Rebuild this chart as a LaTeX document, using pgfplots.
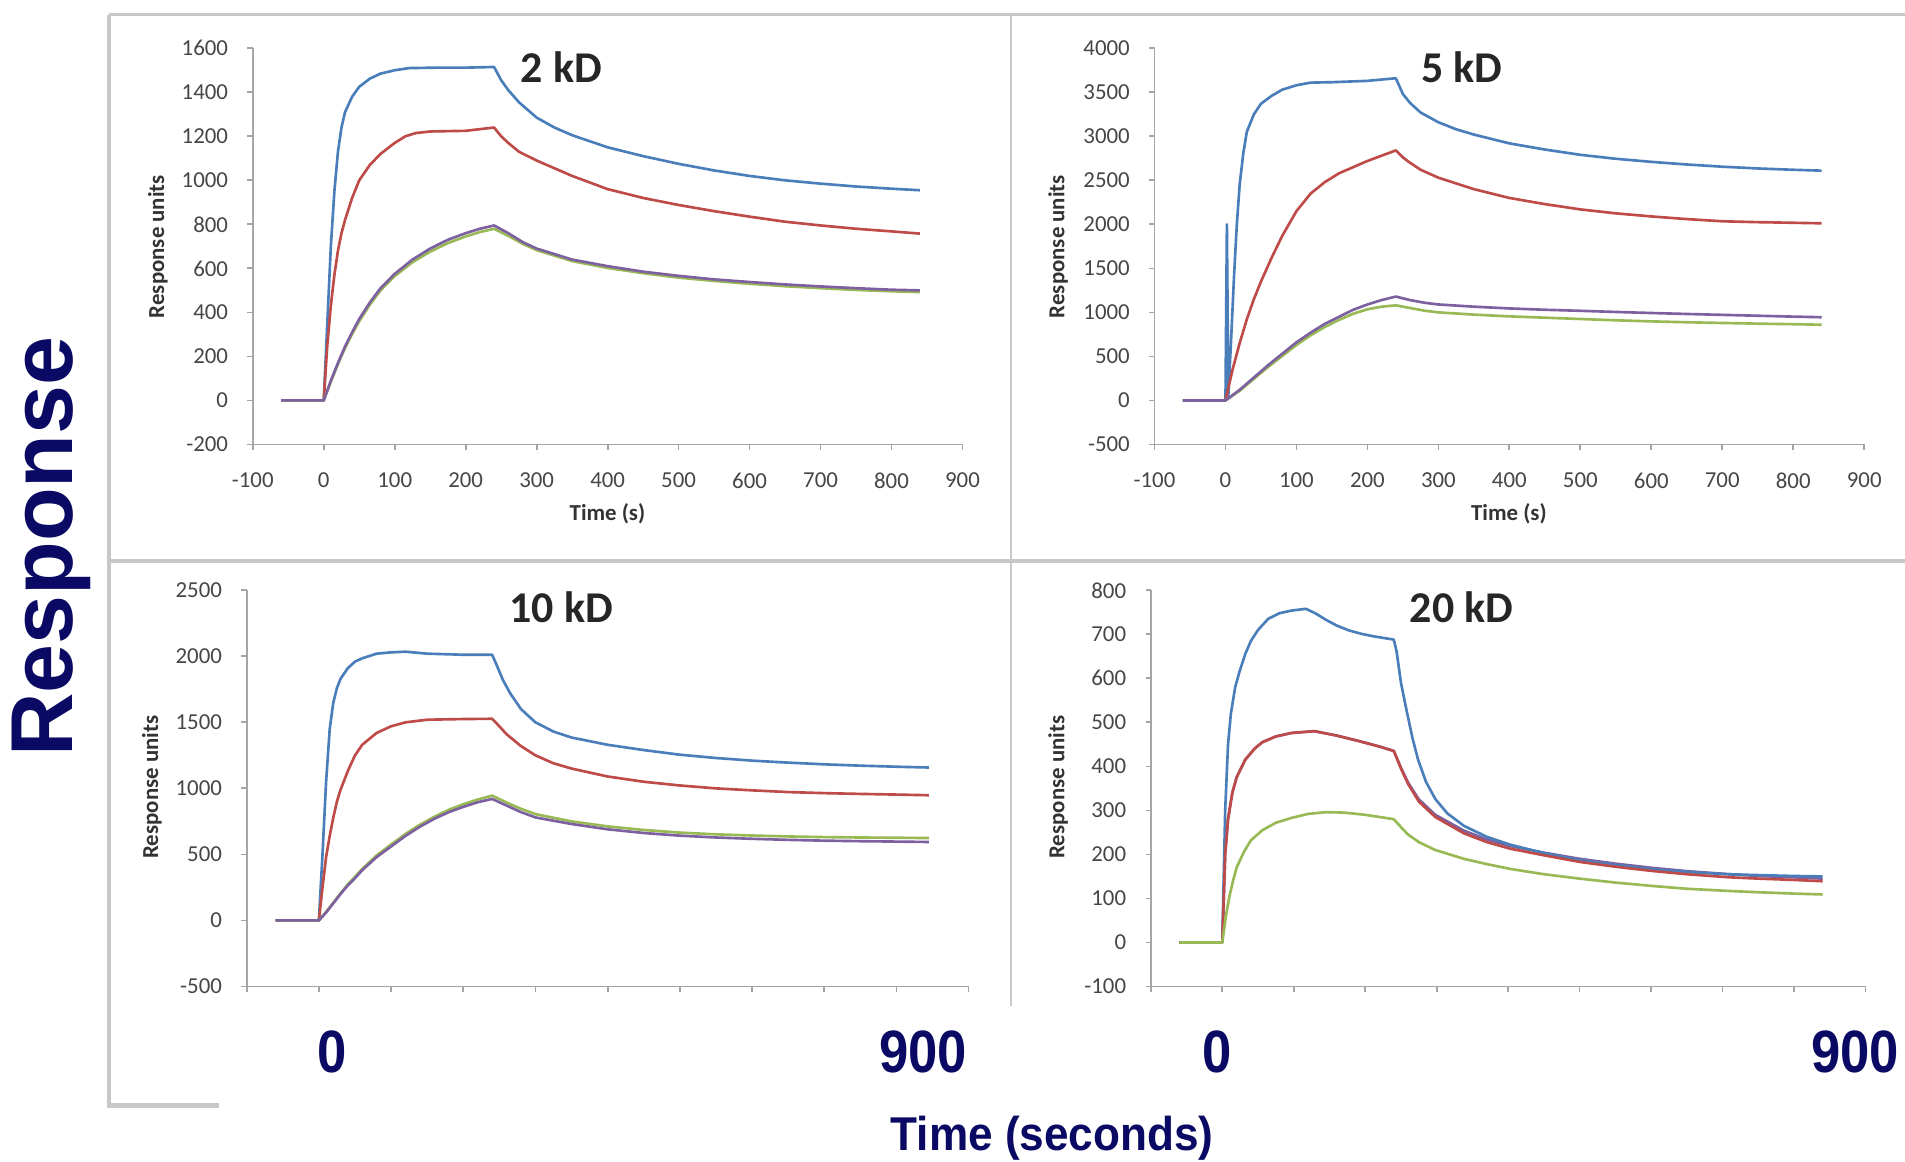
\documentclass[border=0pt]{standalone}
\usepackage{pgfplots}
\pgfplotsset{compat=1.18}
\usepackage{fontspec}
\setmainfont{Carlito}
\newfontfamily\arialfont{Liberation Sans}
\definecolor{xlblue}{HTML}{4A7EBB}
\definecolor{xlred}{HTML}{BE4B48}
\definecolor{xlgreen}{HTML}{98B954}
\definecolor{xlpurple}{HTML}{7D60A0}
\definecolor{navy}{RGB}{10,10,100}
\definecolor{framegrey}{RGB}{200,200,200}
\definecolor{axgrey}{RGB}{165,165,165}
\definecolor{ticktext}{RGB}{70,70,70}
\pgfplotsset{
  spr/.style={
    scale only axis, anchor=south west,
    axis x line=bottom, axis y line=left,
    axis line style={-, axgrey, line width=0.5pt},
    tick style={axgrey, line width=0.5pt},
    tick align=outside, major tick length=1.5pt,
    xmin=-100, xmax=900, xtick={-100,0,...,900},
    xticklabels={-100,0,100,200,300,400,500,600,700,800,900},
    tick label style={font=\fontsize{6.5}{7}\selectfont, text=ticktext},
    xticklabel style={yshift=-3pt},
    yticklabel style={xshift=-2pt},
    every axis plot/.append style={line width=0.75pt, mark=none, line join=round},
  },
}
\begin{document}
\begin{tikzpicture}[x=0.0121492cm, y=0.0121492cm]
\path[use as bounding box, fill=white] (0,0) rectangle (1568,956);
% frame lines
\draw[framegrey, line width=1.1pt] (90,944) -- (1568,944);
\draw[framegrey, line width=1.1pt] (90,944) -- (90,44);
\draw[framegrey, line width=0.6pt] (832,944) -- (832,128);
\draw[framegrey, line width=1.1pt] (90,494) -- (1568,494);
\draw[framegrey, line width=1.4pt] (90,46) -- (180,46);

% ---------- 2 kD ----------
\begin{axis}[spr, at={(2.5270cm,7.1680cm)}, width=7.0951cm, height=3.9606cm,
  ymin=-200, ymax=1600, ytick={-200,0,...,1600},
  yticklabels={-200,0,200,400,600,800,1000,1200,1400,1600}]
\addplot[xlblue] coordinates {(-60,0)(0,0)(5,350)(10,700)(15,950)(20,1130)(25,1240)(30,1310)(40,1380)(50,1425)(65,1462)(80,1485)(100,1500)(120,1510)(160,1512)(200,1512)(240,1515)(250,1455)(260,1410)(275,1355)(300,1285)(325,1240)(350,1205)(400,1150)(450,1110)(500,1075)(550,1045)(600,1020)(650,1000)(700,985)(750,972)(800,962)(840,955)};
\addplot[xlred] coordinates {(-60,0)(0,0)(5,250)(10,430)(15,570)(20,680)(25,760)(30,820)(40,920)(50,1000)(65,1070)(80,1120)(100,1170)(115,1200)(130,1215)(150,1222)(200,1225)(240,1240)(250,1200)(260,1170)(275,1130)(300,1090)(350,1020)(400,960)(450,920)(500,888)(550,860)(600,835)(650,812)(700,795)(750,780)(800,768)(840,758)};
\addplot[xlgreen] coordinates {(-60,0)(0,0)(10,85)(20,165)(30,238)(40,302)(50,360)(65,435)(80,500)(100,565)(125,628)(150,676)(175,715)(200,745)(220,765)(240,780)(260,748)(280,712)(300,683)(350,633)(400,602)(450,578)(500,558)(550,543)(600,530)(650,519)(700,510)(750,502)(800,496)(840,492)};
\addplot[xlpurple] coordinates {(-60,0)(0,0)(10,90)(20,170)(30,245)(40,310)(50,370)(65,445)(80,510)(100,575)(125,640)(150,690)(175,730)(200,760)(220,780)(240,795)(260,760)(280,720)(300,690)(350,640)(400,610)(450,585)(500,566)(550,550)(600,538)(650,527)(700,518)(750,510)(800,503)(840,500)};
\end{axis}

% ---------- 5 kD ----------
\begin{axis}[spr, at={(11.5417cm,7.1680cm)}, width=7.0951cm, height=3.9606cm,
  ymin=-500, ymax=4000, ytick={-500,0,...,4000},
  yticklabels={-500,0,500,1000,1500,2000,2500,3000,3500,4000}]
\addplot[xlblue] coordinates {(-60,0)(0,0)(2,2000)(4,50)(8,700)(12,1400)(16,2000)(20,2450)(25,2800)(30,3050)(40,3250)(50,3370)(65,3460)(80,3530)(100,3580)(120,3610)(150,3615)(200,3630)(240,3660)(250,3480)(260,3380)(275,3270)(300,3160)(325,3080)(350,3020)(400,2920)(450,2850)(500,2790)(550,2745)(600,2710)(650,2680)(700,2655)(750,2635)(800,2620)(840,2610)};
\addplot[xlred] coordinates {(-60,0)(0,0)(10,350)(20,650)(30,920)(40,1150)(50,1350)(65,1620)(80,1870)(100,2150)(120,2350)(140,2480)(160,2580)(180,2650)(200,2720)(220,2780)(240,2840)(250,2760)(260,2700)(275,2620)(300,2530)(350,2400)(400,2300)(450,2230)(500,2170)(550,2125)(600,2090)(650,2060)(700,2035)(750,2025)(800,2018)(840,2012)};
\addplot[xlgreen] coordinates {(-60,0)(0,0)(20,110)(40,245)(60,380)(80,505)(100,630)(120,740)(140,835)(160,915)(180,985)(200,1035)(220,1065)(240,1080)(260,1050)(280,1020)(300,1000)(350,975)(400,955)(450,940)(500,925)(550,910)(600,898)(650,888)(700,880)(750,872)(800,866)(840,860)};
\addplot[xlpurple] coordinates {(-60,0)(0,0)(20,120)(40,260)(60,400)(80,530)(100,660)(120,770)(140,870)(160,950)(180,1030)(200,1090)(220,1140)(240,1180)(260,1140)(280,1110)(300,1090)(350,1065)(400,1045)(450,1030)(500,1018)(550,1005)(600,993)(650,982)(700,972)(750,962)(800,952)(840,945)};
\end{axis}

% ---------- 10 kD ----------
\begin{axis}[spr, at={(2.4663cm,1.7495cm)}, width=7.2166cm, height=3.9606cm,
  ymin=-500, ymax=2500, ytick={-500,0,...,2500},
  yticklabels={-500,0,500,1000,1500,2000,2500}, xticklabels={}]
\addplot[xlblue] coordinates {(-60,0)(0,0)(5,500)(10,1050)(15,1450)(20,1650)(25,1760)(30,1830)(40,1910)(50,1960)(60,1985)(80,2020)(100,2030)(120,2035)(150,2020)(200,2012)(240,2012)(245,1950)(255,1820)(265,1720)(280,1600)(300,1500)(325,1430)(350,1385)(400,1330)(450,1290)(500,1255)(550,1230)(600,1210)(650,1195)(700,1182)(750,1172)(800,1164)(845,1158)};
\addplot[xlred] coordinates {(-60,0)(0,0)(5,250)(10,480)(15,640)(20,780)(25,900)(30,990)(40,1130)(50,1250)(60,1330)(80,1420)(100,1470)(120,1500)(150,1520)(200,1525)(240,1527)(250,1470)(260,1410)(280,1320)(300,1250)(325,1190)(350,1150)(400,1090)(450,1050)(500,1022)(550,1000)(600,985)(650,972)(700,964)(750,958)(800,953)(845,948)};
\addplot[xlgreen] coordinates {(-60,0)(0,0)(10,65)(20,135)(30,205)(40,272)(50,330)(60,390)(80,492)(100,575)(120,655)(140,725)(160,785)(180,838)(200,880)(220,915)(240,945)(260,893)(280,845)(300,805)(350,750)(400,712)(450,685)(500,665)(550,652)(600,643)(650,636)(700,631)(750,628)(800,626)(845,624)};
\addplot[xlpurple] coordinates {(-60,0)(0,0)(10,60)(20,130)(30,200)(40,265)(50,320)(60,380)(80,480)(100,560)(120,640)(140,710)(160,770)(180,820)(200,860)(220,895)(240,920)(260,870)(280,820)(300,780)(350,730)(400,690)(450,662)(500,642)(550,628)(600,618)(650,610)(700,604)(750,600)(800,597)(845,594)};
\end{axis}

% ---------- 20 kD ----------
\begin{axis}[spr, at={(11.5053cm,1.7495cm)}, width=7.1437cm, height=3.9606cm,
  ymin=-100, ymax=800, ytick={-100,0,...,800},
  yticklabels={-100,0,100,200,300,400,500,600,700,800}, xticklabels={}]
\addplot[xlpurple] coordinates {(-60,0)(0,0)(4,200)(8,280)(14,340)(20,375)(32,415)(45,440)(56,455)(75,468)(97,476)(129,480)(160,470)(190,458)(220,445)(240,435)(250,397)(260,363)(275,325)(298,290)(338,254)(370,234)(403,219)(450,204)(500,190)(550,179)(604,169)(650,162)(709,155)(750,151)(800,148)(840,145)};
\addplot[xlblue] coordinates {(-60,0)(0,0)(4,300)(8,450)(12,520)(18,580)(24,615)(32,655)(40,685)(50,710)(64,735)(80,748)(97,754)(117,758)(130,748)(145,733)(160,720)(177,709)(195,701)(210,696)(240,688)(244,660)(250,590)(258,526)(266,465)(274,415)(285,365)(298,326)(315,293)(338,265)(370,240)(403,222)(450,203)(500,187)(550,176)(604,166)(650,160)(709,155)(750,153)(800,151)(840,150)};
\addplot[xlred] coordinates {(-60,0)(0,0)(4,200)(8,280)(14,340)(20,375)(32,415)(45,440)(56,455)(75,468)(97,476)(129,480)(160,470)(190,458)(220,445)(240,435)(250,395)(260,360)(275,320)(298,285)(338,248)(370,228)(403,213)(450,198)(500,183)(550,172)(604,162)(650,155)(709,148)(750,145)(800,142)(840,139)};
\addplot[xlgreen] coordinates {(-60,0)(0,0)(5,60)(10,105)(15,140)(20,170)(30,205)(40,232)(56,255)(75,272)(97,283)(120,292)(145,296)(170,295)(200,290)(240,280)(250,262)(260,245)(275,228)(298,210)(338,190)(370,178)(403,167)(450,155)(500,145)(550,136)(604,128)(650,122)(709,117)(750,114)(800,111)(840,109)};
\end{axis}

% panel titles and small labels
\begin{scope}[every node/.style={inner sep=0pt}]
\node[font=\fontsize{12.5}{14}\selectfont\bfseries, text=black!85] at (462,901) {2 kD};
\node[font=\fontsize{12.5}{14}\selectfont\bfseries, text=black!85] at (1203,901) {5 kD};
\node[font=\fontsize{12.5}{14}\selectfont\bfseries, text=black!85] at (462,456) {10 kD};
\node[font=\fontsize{12.5}{14}\selectfont\bfseries, text=black!85] at (1203,456) {20 kD};
\node[rotate=90, font=\fontsize{6.5}{7}\selectfont\bfseries, text=black!80] at (130,753) {Response units};
\node[rotate=90, font=\fontsize{6.5}{7}\selectfont\bfseries, text=black!80] at (871,753) {Response units};
\node[rotate=90, font=\fontsize{6.5}{7}\selectfont\bfseries, text=black!80] at (125,308) {Response units};
\node[rotate=90, font=\fontsize{6.5}{7}\selectfont\bfseries, text=black!80] at (871,308) {Response units};
\node[font=\fontsize{6.5}{7}\selectfont\bfseries, text=black!80] at (500,533) {Time (s)};
\node[font=\fontsize{6.5}{7}\selectfont\bfseries, text=black!80] at (1242,533) {Time (s)};
% big overlay labels
\node[rotate=90, font=\arialfont\fontsize{25}{28}\selectfont\bfseries, text=navy] at (42,506) {Response};
\node[xscale=0.88, font=\arialfont\fontsize{17}{19}\selectfont\bfseries, text=navy] at (273,90) {0};
\node[xscale=0.88, font=\arialfont\fontsize{17}{19}\selectfont\bfseries, text=navy] at (760,90) {900};
\node[xscale=0.88, font=\arialfont\fontsize{17}{19}\selectfont\bfseries, text=navy] at (1002,90) {0};
\node[xscale=0.88, font=\arialfont\fontsize{17}{19}\selectfont\bfseries, text=navy] at (1527,90) {900};
\node[xscale=0.93, font=\arialfont\fontsize{13.5}{15}\selectfont\bfseries, text=navy] at (866,19) {Time (seconds)};
\end{scope}
\end{tikzpicture}
\end{document}
